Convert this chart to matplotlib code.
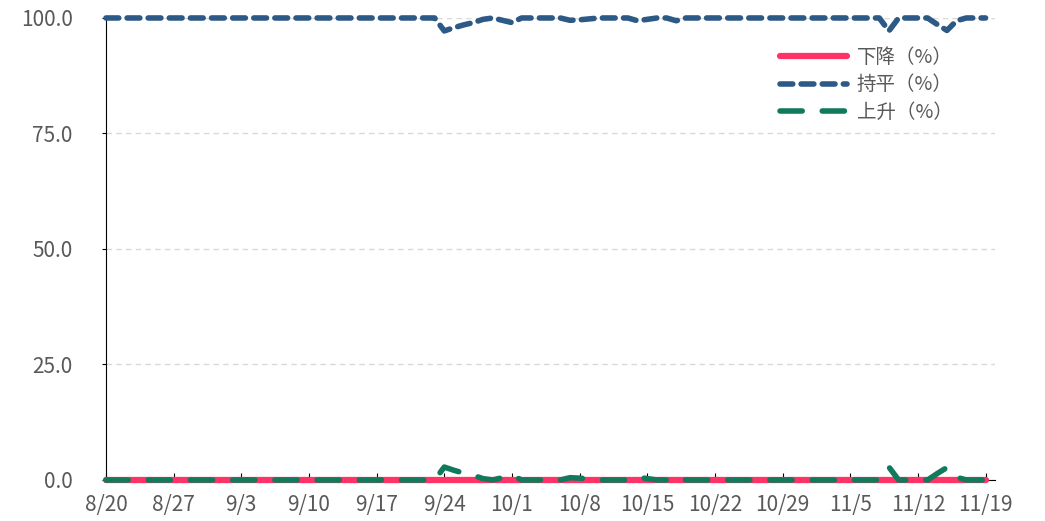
import pandas as pd
import matplotlib.pyplot as plt

plt.rcParams['font.family'] = ['Noto Sans CJK SC', 'DejaVu Sans']

dates = pd.date_range('2024-08-20', '2024-11-19', freq='D')

# 上升 (%) daily values, zero unless listed here
up_nonzero = {
    '2024-09-24': 2.8, '2024-09-25': 2.1, '2024-09-26': 1.5, '2024-09-27': 1.0,
    '2024-09-28': 0.3, '2024-09-30': 0.5, '2024-10-01': 1.0,
    '2024-10-07': 0.5, '2024-10-08': 0.4, '2024-10-09': 0.2,
    '2024-10-14': 0.6, '2024-10-15': 0.3, '2024-10-18': 0.6,
    '2024-11-09': 2.8, '2024-11-14': 1.4, '2024-11-15': 2.7, '2024-11-16': 0.6,
}
up = [up_nonzero.get(d.strftime('%Y-%m-%d'), 0.0) for d in dates]
down = [0.0] * len(dates)
flat = [100.0 - u - d for u, d in zip(up, down)]

tick_dates = pd.date_range('2024-08-20', '2024-11-19', freq='7D')
tick_labels = [f"{d.month}/{d.day}" for d in tick_dates]

fig = plt.figure(figsize=(10.45, 5.21), dpi=100)
ax = fig.add_axes([0.1014, 0.0787, 0.851, 0.8868])

ax.plot(dates, down, color='#FF3366', lw=4.5, label='下降（%）', clip_on=False, zorder=3,
        solid_capstyle='round')
ax.plot(dates, flat, color='#2D5986', lw=4, ls=(0, (2.3, 1.5)), label='持平（%）',
        clip_on=False, zorder=4, dash_capstyle='round', dash_joinstyle='round')
ax.plot(dates, up, color='#127A5C', lw=4, ls=(0, (4.0, 3.6)), label='上升（%）',
        clip_on=False, zorder=5, dash_capstyle='round', dash_joinstyle='round')

ax.set_ylim(0, 100)
ax.set_xlim(dates[0], dates[0] + pd.Timedelta(days=92))
ax.set_yticks([0, 25, 50, 75, 100])
ax.set_yticklabels(['0.0', '25.0', '50.0', '75.0', '100.0'])
ax.set_xticks(tick_dates)
ax.set_xticklabels(tick_labels)

ax.grid(axis='y', color='#D9D9D9', ls=(0, (4, 3)), lw=1)
ax.set_axisbelow(True)
for s in ['top', 'right']:
    ax.spines[s].set_visible(False)
ax.spines['left'].set_color('black')
ax.spines['bottom'].set_color('black')
ax.tick_params(axis='x', direction='in', length=5, colors='black', labelcolor='#595959',
               labelsize=15, pad=10)
ax.tick_params(axis='y', direction='out', length=3, colors='black', labelcolor='#595959',
               labelsize=15, pad=21)

leg = ax.legend(loc='upper left', bbox_to_anchor=(0.738, 0.975), frameon=False,
                fontsize=14, handlelength=3.45, labelspacing=0.33, handletextpad=0.5)
for t in leg.get_texts():
    t.set_color('#595959')

fig.savefig('out.png', dpi=100)
